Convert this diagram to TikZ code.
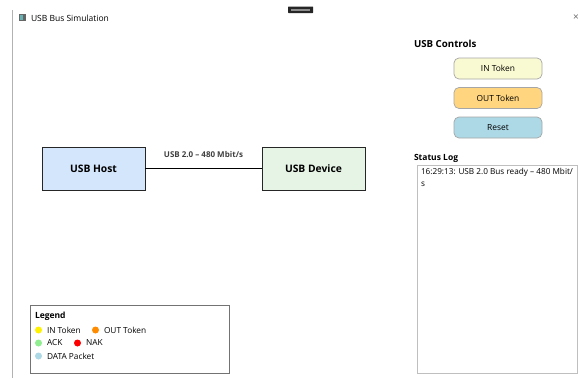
\documentclass[tikz,border=0pt]{standalone}
\usepackage{fontspec}
\setmainfont{Open Sans}
\begin{document}
\begin{tikzpicture}[x=1pt,y=-1pt,
  every node/.style={inner sep=0pt, outer sep=0pt},
  btn/.style={draw=black!35, rounded corners=5pt, line width=0.7pt, minimum width=88pt, minimum height=21pt, font=\fontsize{8.4}{10}\selectfont},
  devbox/.style={draw=black!85, line width=0.9pt, minimum width=103pt, minimum height=43pt, font=\bfseries\fontsize{10.3}{12}\selectfont},
  heading/.style={anchor=west, font=\bfseries\fontsize{8.5}{10}\selectfont},
  lbl/.style={anchor=west, font=\fontsize{8.3}{9}\selectfont},
  dot/.style={circle, minimum size=7pt}
]
\definecolor{inyellow}{HTML}{FAFAD2}
\definecolor{outorange}{HTML}{FFD580}
\definecolor{resetblue}{HTML}{ADD8E6}
\definecolor{hostblue}{HTML}{D4E6FC}
\definecolor{devgreen}{HTML}{E6F4E6}
\definecolor{ackgreen}{RGB}{144,238,144}
\useasboundingbox[fill=white] (0,0) rectangle (579,378);

% window frame and title bar
\draw[black!30, line width=1pt] (12,10) -- (12,378);
\fill[black!60] (19,14) rectangle (26,21);
\fill[teal!60] (20,15) rectangle (23,20);
\node[anchor=west, font=\fontsize{8.5}{10}\selectfont] (title) at (31,18) {USB Bus Simulation};
\fill[black!85, rounded corners=0.5pt] (288,6.5) rectangle (313,13);
\fill[black!45] (291,9) rectangle (310,10.5);
\node[font=\fontsize{10}{11}\selectfont, text=black!60] (close) at (576,18) {\char"00D7};

% bus diagram
\node[devbox, fill=hostblue] (host) at (93.5,168.5) {USB Host};
\node[devbox, fill=devgreen] (device) at (313.5,168.5) {USB Device};
\draw[line width=1.8pt] (host.east) -- node[above=11pt, font=\bfseries\fontsize{8}{9}\selectfont, text=black!75] (buslabel) {USB 2.0 – 480 Mbit/s} (device.west);

% controls
\node[heading, font=\bfseries\fontsize{9.7}{11}\selectfont] (ctrlhead) at (414,44) {USB Controls};
\node[btn, fill=inyellow] (intok) at (498,68.5) {IN Token};
\node[btn, fill=outorange] (outtok) at (498,98) {OUT Token};
\node[btn, fill=resetblue] (reset) at (498,127.5) {Reset};

% status log
\node[heading] (loghead) at (414,158) {Status Log};
\draw[black!25, line width=0.8pt] (417,165) rectangle (577,373);
\node[anchor=north west, align=left, font=\fontsize{8.2}{12}\selectfont] (logtext) at (421,168.5) {16:29:13: USB 2.0 Bus ready – 480 Mbit/\\s};

% legend
\draw[black!55, line width=0.8pt] (30,305) rectangle (229,373);
\node[heading] (leghead) at (35,316) {Legend};
\node[dot, fill=yellow] (d1) at (38.5,330) {};
\node[lbl] (l1) at (47,330) {IN Token};
\node[dot, fill=orange!90!yellow] (d2) at (95.5,330) {};
\node[lbl] (l2) at (104,330) {OUT Token};
\node[dot, fill=ackgreen] (d3) at (38.5,343) {};
\node[lbl] (l3) at (47,343) {ACK};
\node[dot, fill=red] (d4) at (77.5,343) {};
\node[lbl] (l4) at (86,343) {NAK};
\node[dot, fill=resetblue] (d5) at (38.5,356) {};
\node[lbl] (l5) at (47,356) {DATA Packet};
\end{tikzpicture}
\end{document}
